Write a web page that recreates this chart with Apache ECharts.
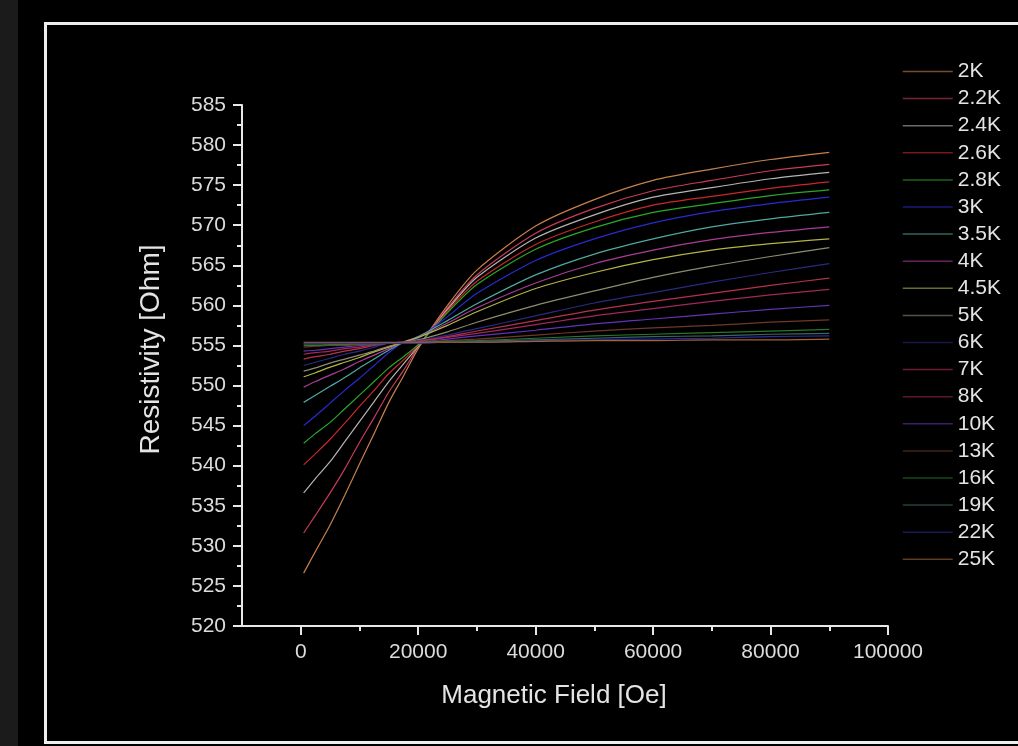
<!DOCTYPE html>
<html>
<head>
<meta charset="utf-8">
<script src="https://cdn.jsdelivr.net/npm/echarts@6/dist/echarts.min.js"></script>
<style>
  html, body { margin: 0; padding: 0; background: #000; width: 1018px; height: 746px; overflow: hidden; }
  #strip { position: absolute; left: 0; top: 0; width: 18px; height: 746px; background: #1b1b1b; }
  #frame { position: absolute; left: 44px; top: 22px; width: 1010px; height: 716px; border: 3px solid #eeeeee; }
  #chart { position: absolute; left: 0; top: 0; width: 1018px; height: 746px; }
</style>
</head>
<body>
<div id="strip"></div>
<div id="frame"></div>
<div id="chart"></div>
<script>
// ---- data ----
const temperatures = ['2K','2.2K','2.4K','2.6K','2.8K','3K','3.5K','4K','4.5K','5K','6K','7K','8K','10K','13K','16K','19K','22K','25K'];
const fieldOe = [500, 2500, 5000, 7500, 10000, 12500, 15000, 17500, 20000, 25000, 30000, 40000, 50000, 60000, 70000, 80000, 90000];

const rho_2K   = [526.6, 529.3, 532.6, 536.3, 540.2, 544.0, 547.9, 551.2, 554.6, 560.0, 564.4, 569.9, 573.2, 575.6, 577.0, 578.2, 579.1];
const rho_2p2K = [531.6, 533.8, 536.6, 539.6, 542.9, 546.0, 549.2, 551.9, 554.8, 559.7, 563.8, 569.0, 572.1, 574.3, 575.6, 576.8, 577.6];
const rho_2p4K = [536.6, 538.4, 540.5, 543.0, 545.5, 548.0, 550.5, 552.7, 554.9, 559.5, 563.5, 568.4, 571.3, 573.5, 574.7, 575.8, 576.6];
const rho_2p6K = [540.1, 541.5, 543.3, 545.3, 547.4, 549.4, 551.5, 553.2, 555.0, 559.3, 563.0, 567.6, 570.4, 572.5, 573.6, 574.6, 575.4];
const rho_2p8K = [542.8, 544.0, 545.4, 547.1, 548.8, 550.5, 552.2, 553.6, 555.1, 559.1, 562.6, 567.0, 569.7, 571.6, 572.7, 573.7, 574.4];
const rho_3K   = [545.0, 546.2, 547.8, 549.4, 550.9, 552.5, 554.1, 555.4, 555.9, 558.6, 561.5, 565.6, 568.3, 570.3, 571.7, 572.7, 573.5];
const rho_3p5K = [547.9, 548.8, 549.9, 551.0, 552.2, 553.3, 554.4, 555.4, 556.1, 558.1, 560.2, 563.8, 566.4, 568.3, 569.8, 570.8, 571.6];
const rho_4K   = [549.8, 550.5, 551.3, 552.1, 553.0, 553.8, 554.6, 555.4, 556.0, 557.8, 559.7, 562.8, 565.2, 566.9, 568.2, 569.1, 569.8];
const rho_4p5K = [551.1, 551.6, 552.3, 552.9, 553.5, 554.2, 554.8, 555.4, 556.0, 557.5, 559.2, 562.1, 564.1, 565.7, 566.9, 567.7, 568.3];
const rho_5K   = [551.8, 552.2, 552.8, 553.3, 553.8, 554.3, 554.9, 555.4, 555.7, 556.7, 557.9, 560.0, 561.8, 563.5, 564.9, 566.1, 567.2];
const rho_6K   = [552.5, 552.9, 553.4, 553.9, 554.3, 554.8, 555.3, 555.4, 555.6, 556.3, 557.1, 558.7, 560.3, 561.6, 562.9, 564.1, 565.2];
const rho_7K   = [553.3, 553.6, 553.9, 554.3, 554.6, 555.0, 555.3, 555.4, 555.5, 556.1, 556.8, 558.1, 559.4, 560.5, 561.5, 562.5, 563.4];
const rho_8K   = [553.9, 554.1, 554.3, 554.6, 554.8, 555.1, 555.3, 555.4, 555.5, 556.0, 556.5, 557.6, 558.7, 559.6, 560.5, 561.3, 562.0];
const rho_10K  = [554.3, 554.4, 554.6, 554.8, 555.0, 555.1, 555.3, 555.3, 555.4, 555.8, 556.2, 556.9, 557.7, 558.3, 558.9, 559.5, 560.0];
const rho_13K  = [554.8, 554.9, 555.0, 555.0, 555.1, 555.2, 555.3, 555.3, 555.4, 555.6, 555.8, 556.3, 556.8, 557.2, 557.5, 557.9, 558.2];
const rho_16K  = [555.0, 555.0, 555.1, 555.1, 555.2, 555.2, 555.3, 555.3, 555.4, 555.5, 555.6, 555.9, 556.2, 556.4, 556.6, 556.8, 557.0];
const rho_19K  = [555.2, 555.2, 555.2, 555.2, 555.3, 555.3, 555.3, 555.3, 555.3, 555.4, 555.5, 555.7, 555.9, 556.1, 556.2, 556.4, 556.5];
const rho_22K  = [555.3, 555.3, 555.3, 555.3, 555.3, 555.3, 555.3, 555.3, 555.3, 555.4, 555.4, 555.6, 555.7, 555.8, 555.9, 556.1, 556.2];
const rho_25K  = [555.4, 555.4, 555.4, 555.4, 555.4, 555.4, 555.4, 555.4, 555.4, 555.4, 555.4, 555.5, 555.6, 555.6, 555.7, 555.7, 555.8];

const xMajorTicks = [0, 20000, 40000, 60000, 80000, 100000];
const xMinorTicks = [10000, 30000, 50000, 70000, 90000];

const seriesValues = [rho_2K, rho_2p2K, rho_2p4K, rho_2p6K, rho_2p8K, rho_3K, rho_3p5K, rho_4K, rho_4p5K, rho_5K,
                      rho_6K, rho_7K, rho_8K, rho_10K, rho_13K, rho_16K, rho_19K, rho_22K, rho_25K];
const seriesColors = ['#c8804a','#c83c5a','#b4b4b4','#c82828','#28a828','#2a2ad0','#50a8a0','#a83c96','#b4b446','#8c8c70',
                      '#2a2a80','#b43250','#a0285a','#6432b4','#703828','#287828','#3c6464','#2a2a9a','#a06432'];

const FONT = '"Liberation Sans", Arial, sans-serif';
const AXIS_COLOR = '#e8e8e8';
const chart = echarts.init(document.getElementById('chart'), null, { renderer: 'canvas' });

const series = temperatures.map((t, i) => ({
  name: t,
  type: 'line',
  xAxisIndex: 0,
  yAxisIndex: 0,
  symbol: 'none',
  showSymbol: false,
  smooth: 0.25,
  lineStyle: { width: 1.2, color: seriesColors[i] },
  itemStyle: { color: seriesColors[i] },
  data: fieldOe.map((x, j) => [x, seriesValues[i][j]])
}));

chart.setOption({
  animation: false,
  backgroundColor: 'transparent',
  grid: { left: 242, right: 130, top: 105, bottom: 120 },
  legend: {
    orient: 'vertical',
    left: 902,
    top: 61,
    padding: 0,
    itemWidth: 50,
    itemHeight: 14,
    itemGap: 6.1,
    data: temperatures,
    itemStyle: { opacity: 0 },
    lineStyle: { width: 1.5, opacity: 0.6 },
    textStyle: { color: '#e4e4e4', fontSize: 21, fontFamily: FONT }
  },
  xAxis: [{
    type: 'value',
    min: -10000,
    max: 100000,
    name: 'Magnetic Field [Oe]',
    nameLocation: 'middle',
    nameGap: 57,
    nameTextStyle: { color: '#e4e4e4', fontSize: 26, fontFamily: FONT, padding: [0, 22, 0, 0] },
    axisLine: { show: true, onZero: false, lineStyle: { color: AXIS_COLOR, width: 2 } },
    axisTick: { show: true, inside: false, length: 9, customValues: xMajorTicks, lineStyle: { color: AXIS_COLOR, width: 2 } },
    axisLabel: { show: true, customValues: xMajorTicks, margin: 16, color: '#dcdcdc', fontSize: 21, fontFamily: FONT,
                 formatter: v => String(v) },
    splitLine: { show: false }
  }, {
    type: 'value',
    min: -10000,
    max: 100000,
    position: 'bottom',
    axisLine: { show: false },
    axisTick: { show: true, inside: false, length: 5, customValues: xMinorTicks, lineStyle: { color: AXIS_COLOR, width: 2 } },
    axisLabel: { show: false },
    splitLine: { show: false }
  }],
  yAxis: [{
    type: 'value',
    min: 520,
    max: 585,
    interval: 5,
    name: 'Resistivity [Ohm]',
    nameLocation: 'middle',
    nameGap: 77,
    nameRotate: 90,
    nameTextStyle: { color: '#e4e4e4', fontSize: 28, fontFamily: FONT, padding: [0, 0, 0, 32] },
    axisLine: { show: true, onZero: false, lineStyle: { color: AXIS_COLOR, width: 2 } },
    axisTick: { show: true, inside: false, length: 9, lineStyle: { color: AXIS_COLOR, width: 2 } },
    minorTick: { show: true, splitNumber: 2, length: 5, lineStyle: { color: AXIS_COLOR, width: 2 } },
    axisLabel: { margin: 16, color: '#dcdcdc', fontSize: 21, fontFamily: FONT },
    splitLine: { show: false },
    minorSplitLine: { show: false }
  }],
  series: series
});
</script>
</body>
</html>
